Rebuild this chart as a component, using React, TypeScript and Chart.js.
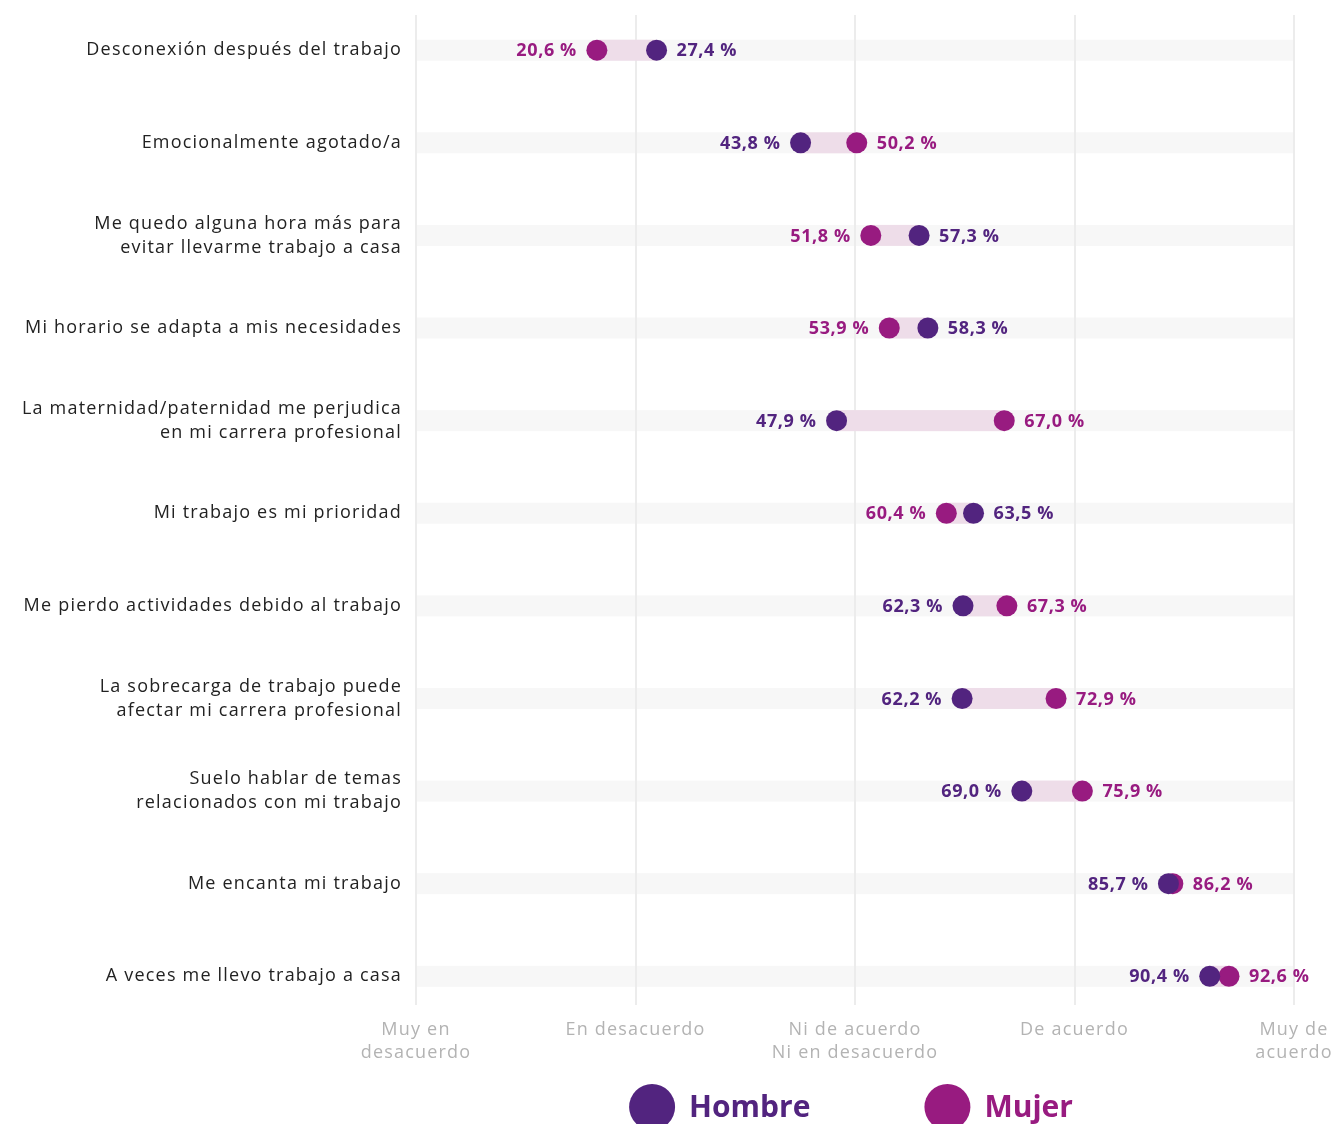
import React, { useEffect, useRef } from 'react';
import { Chart, registerables } from 'chart.js';

Chart.register(...registerables);

const categories: (string | string[])[] = [
  'Desconexión después del trabajo',
  'Emocionalmente agotado/a',
  ['Me quedo alguna hora más para', 'evitar llevarme trabajo a casa'],
  'Mi horario se adapta a mis necesidades',
  ['La maternidad/paternidad me perjudica', 'en mi carrera profesional'],
  'Mi trabajo es mi prioridad',
  'Me pierdo actividades debido al trabajo',
  ['La sobrecarga de trabajo puede', 'afectar mi carrera profesional'],
  ['Suelo hablar de temas', 'relacionados con mi trabajo'],
  'Me encanta mi trabajo',
  'A veces me llevo trabajo a casa',
];

const hombre = [27.4, 43.8, 57.3, 58.3, 47.9, 63.5, 62.3, 62.2, 69.0, 85.7, 90.4];
const mujer = [20.6, 50.2, 51.8, 53.9, 67.0, 60.4, 67.3, 72.9, 75.9, 86.2, 92.6];

const xTickValues = [0, 25, 50, 75, 100];
const xTickLabels: (string | string[])[] = [
  ['Muy en', 'desacuerdo'],
  'En desacuerdo',
  ['Ni de acuerdo', 'Ni en desacuerdo'],
  'De acuerdo',
  ['Muy de', 'acuerdo'],
];

const seriesNames = ['Hombre', 'Mujer'];
const seriesColors = ['#52247f', '#981b80'];

const FONT = "'Open Sans', 'Noto Sans', sans-serif";
const W = 1336;
const H = 1150;

const fmt = (v: number) => v.toFixed(1).replace('.', ',') + ' %';

const dumbbellPlugin = {
  id: 'dumbbell',
  beforeDraw(chart: any) {
    const { ctx, chartArea, scales } = chart;
    ctx.letterSpacing = '1.2px';
    const y = scales.y;
    ctx.save();
    ctx.fillStyle = '#f7f7f7';
    categories.forEach((_, i) => {
      const py = y.getPixelForValue(i);
      ctx.fillRect(chartArea.left, py - 10.5, chartArea.right - chartArea.left, 21);
    });
    ctx.restore();
  },
  beforeDatasetsDraw(chart: any) {
    const { ctx, scales } = chart;
    const x = scales.x;
    const y = scales.y;
    ctx.save();
    ctx.fillStyle = '#eedde9';
    categories.forEach((_, i) => {
      const a = x.getPixelForValue(hombre[i]);
      const b = x.getPixelForValue(mujer[i]);
      const py = y.getPixelForValue(i);
      ctx.fillRect(Math.min(a, b), py - 10.5, Math.abs(b - a), 21);
    });
    ctx.restore();
  },
  afterDatasetsDraw(chart: any) {
    const { ctx, scales, chartArea } = chart;
    const x = scales.x;
    const y = scales.y;
    ctx.save();
    ctx.letterSpacing = '0.6px';
    ctx.font = `bold 18px ${FONT}`;
    ctx.textBaseline = 'middle';
    categories.forEach((_, i) => {
      const vals = [hombre[i], mujer[i]];
      const lo = vals[0] <= vals[1] ? 0 : 1;
      const hi = 1 - lo;
      const py = y.getPixelForValue(i) + 1;
      ctx.fillStyle = seriesColors[lo];
      ctx.textAlign = 'right';
      ctx.fillText(fmt(vals[lo]), x.getPixelForValue(vals[lo]) - 20, py);
      ctx.fillStyle = seriesColors[hi];
      ctx.textAlign = 'left';
      ctx.fillText(fmt(vals[hi]), x.getPixelForValue(vals[hi]) + 20, py);
    });
    // legend
    ctx.letterSpacing = '0px';
    ctx.font = `bold 30px ${FONT}`;
    const r = 23;
    const gapText = 14;
    const gapItems = 114;
    const widths = seriesNames.map((n) => 2 * r + gapText + ctx.measureText(n).width);
    const total = widths.reduce((s, w) => s + w, 0) + gapItems * (seriesNames.length - 1);
    let cx = (chartArea.left + chartArea.right) / 2 - 4 - total / 2;
    const ly = chartArea.bottom + 102;
    seriesNames.forEach((n, i) => {
      ctx.fillStyle = seriesColors[i];
      ctx.beginPath();
      ctx.arc(cx + r, ly, r, 0, Math.PI * 2);
      ctx.fill();
      ctx.textAlign = 'left';
      ctx.textBaseline = 'middle';
      ctx.fillText(n, cx + 2 * r + gapText, ly + 1);
      cx += widths[i] + gapItems;
    });
    ctx.restore();
  },
};

export default function App() {
  const ref = useRef<HTMLCanvasElement>(null);
  useEffect(() => {
    if (!ref.current) return;
    const chart = new Chart(ref.current, {
      type: 'scatter',
      data: {
        datasets: [
          {
            label: seriesNames[0],
            data: hombre.map((v, i) => ({ x: v, y: i })),
            backgroundColor: seriesColors[0],
            borderColor: seriesColors[0],
            pointRadius: 10.5,
            pointHoverRadius: 10.5,
            borderWidth: 0,
          },
          {
            label: seriesNames[1],
            data: mujer.map((v, i) => ({ x: v, y: i })),
            backgroundColor: seriesColors[1],
            borderColor: seriesColors[1],
            pointRadius: 10.5,
            pointHoverRadius: 10.5,
            borderWidth: 0,
          },
        ],
      },
      options: {
        responsive: false,
        animation: false,
        devicePixelRatio: 1,
        layout: { padding: { top: 15, right: 42, bottom: 0, left: 0 } },
        plugins: {
          legend: { display: false },
          tooltip: { enabled: false },
        },
        scales: {
          x: {
            type: 'linear',
            min: 0,
            max: 100,
            afterBuildTicks: (s: any) => {
              s.ticks = xTickValues.map((v) => ({ value: v }));
            },
            afterFit: (s: any) => {
              s.height = 145;
              s.paddingLeft = 0;
              s.paddingRight = 0;
            },
            grid: { color: '#ececec', lineWidth: 2, drawTicks: false },
            border: { display: false },
            ticks: {
              padding: 14,
              color: '#b3b3b3',
              font: { family: FONT, size: 18, lineHeight: 1.25 },
              maxRotation: 0,
              autoSkip: false,
              callback: (v: any) => xTickLabels[xTickValues.indexOf(Number(v))],
            },
          },
          y: {
            type: 'linear',
            reverse: true,
            min: -0.38,
            max: 10.31,
            afterBuildTicks: (s: any) => {
              s.ticks = categories.map((_, i) => ({ value: i }));
            },
            afterFit: (s: any) => {
              s.width = 416;
              s.paddingTop = 0;
              s.paddingBottom = 0;
            },
            grid: { display: false },
            border: { display: false },
            ticks: {
              padding: 6,
              color: '#222222',
              font: { family: FONT, size: 18, lineHeight: 1.33 },
              autoSkip: false,
              callback: (v: any) => categories[Number(v)],
            },
          },
        },
      },
      plugins: [dumbbellPlugin],
    } as any);
    return () => chart.destroy();
  }, []);
  return (
    <div style={{ position: 'absolute', left: 0, top: 0, width: W, height: 1124, overflow: 'hidden' }}>
      <canvas ref={ref} width={W} height={H} style={{ display: 'block' }} />
    </div>
  );
}
